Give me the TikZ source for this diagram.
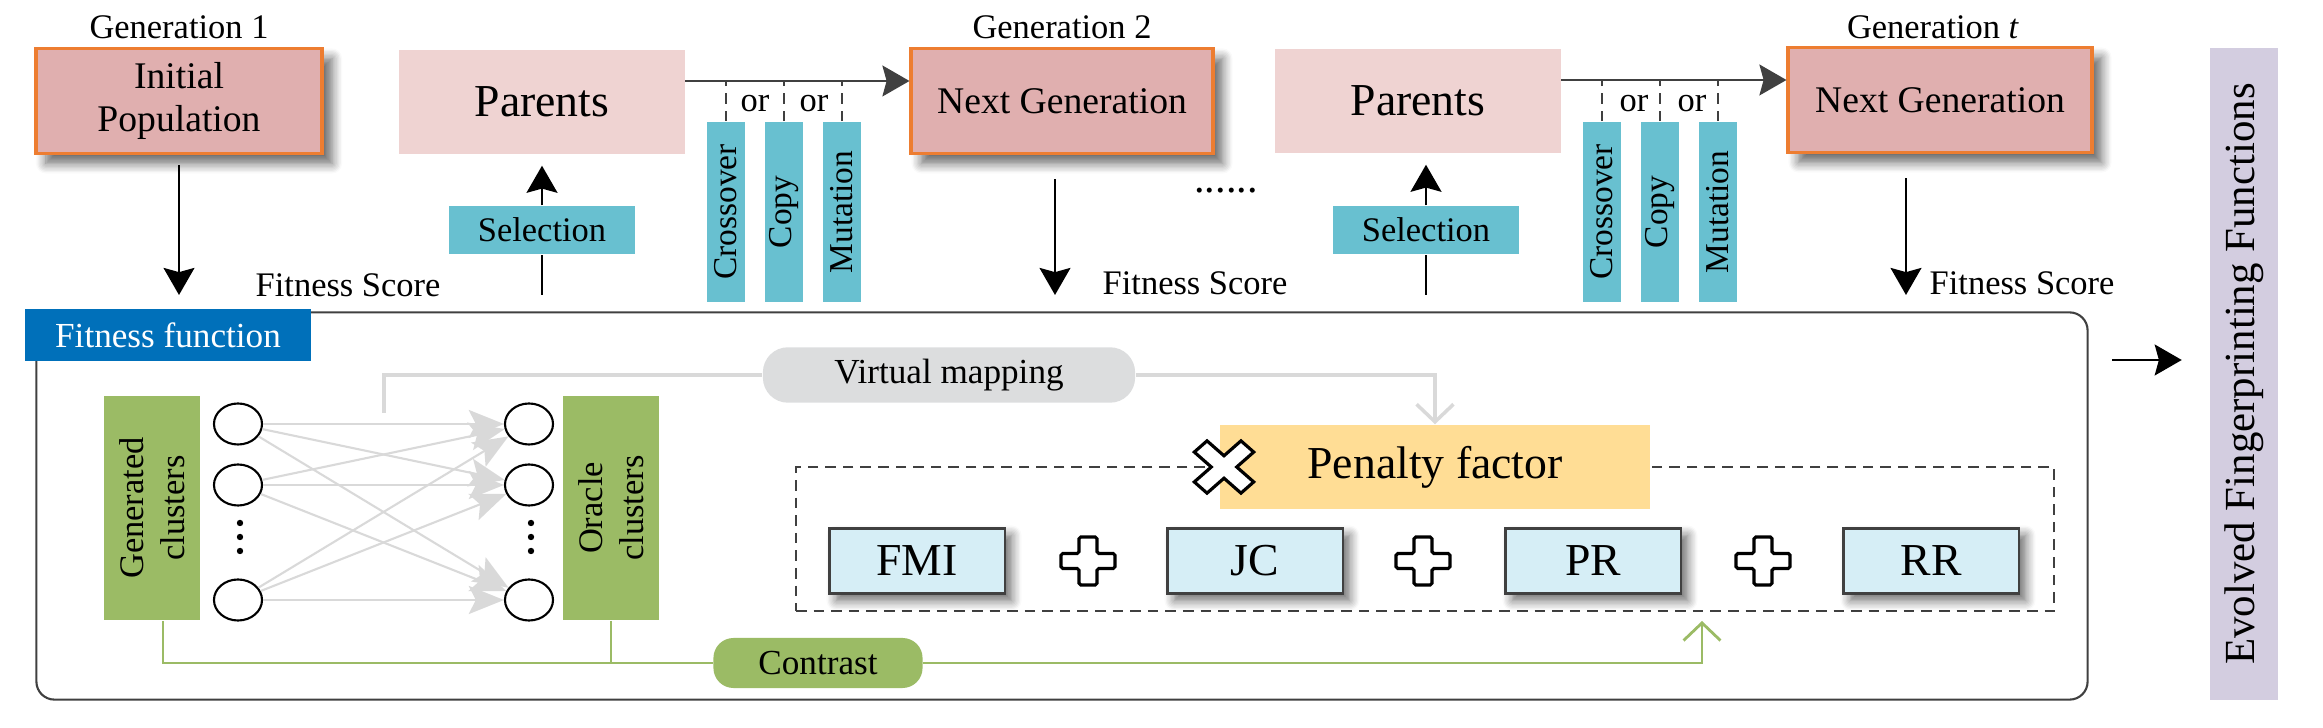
\documentclass[tikz,border=0pt]{standalone}
\usepackage{fontspec}
\setmainfont{Liberation Serif}
\usetikzlibrary{arrows.meta,shapes.geometric,shadows.blur}

\definecolor{popred}{HTML}{E0AFAF}
\definecolor{poporange}{HTML}{ED7D31}
\definecolor{parpink}{HTML}{EFD3D2}
\definecolor{opteal}{HTML}{68C0D0}
\definecolor{fitblue}{HTML}{0070BA}
\definecolor{clgreen}{HTML}{9BBB65}
\definecolor{mapgray}{HTML}{D9D9D9}
\definecolor{vmgray}{HTML}{DCDDDE}
\definecolor{penyellow}{HTML}{FFDD95}
\definecolor{metblue}{HTML}{D6EEF6}
\definecolor{evlilac}{HTML}{D3CDE0}
\definecolor{linegray}{HTML}{404040}

\begin{document}
\begin{tikzpicture}[x=0.01cm, y=-0.01cm,
    >={Stealth[length=7.7pt, width=8.8pt, inset=1.2pt]},
    box shadow/.style={blur shadow={shadow xshift=#1, shadow yshift=-#1, shadow blur radius=0.1cm, shadow blur steps=8, shadow opacity=60}},
    popbox/.style={draw=poporange, line width=1.1pt, fill=popred, minimum width=2.86cm, minimum height=1.05cm, align=center, font=\fontsize{10.7}{12}\selectfont, box shadow=0.1cm},
    parbox/.style={fill=parpink, minimum width=2.85cm, minimum height=1.04cm, font=\fontsize{13}{15}\selectfont},
    selbox/.style={fill=opteal, minimum width=1.86cm, minimum height=0.48cm, font=\fontsize{9.8}{11}\selectfont},
    opbox/.style={fill=opteal, rotate=90, minimum width=1.8cm, minimum height=0.38cm, inner sep=0pt, font=\fontsize{9.5}{10}\selectfont},
    small/.style={font=\fontsize{9.8}{11}\selectfont, inner sep=0pt},
    flow/.style={->, line width=0.6pt},
    gline/.style={linegray, line width=0.6pt},
    orline/.style={linegray, dash pattern=on 3pt off 2pt, line width=0.5pt},
    tab/.style={fill=fitblue, text=white, minimum width=2.85cm, minimum height=0.51cm, font=\fontsize{10}{11}\selectfont},
    fitframe/.style={draw=linegray, line width=0.6pt, rounded corners=0.18cm, minimum width=20.5cm, minimum height=3.87cm},
    clbox/.style={fill=clgreen, rotate=90, minimum width=2.24cm, minimum height=0.96cm, align=center, inner sep=0pt, font=\fontsize{9.8}{11.5}\selectfont},
    cl/.style={ellipse, draw, line width=0.6pt, fill=white, minimum width=0.48cm, minimum height=0.41cm, inner sep=0pt},
    maparr/.style={mapgray, line width=0.6pt, -{Stealth[length=10pt, width=8pt, inset=2pt]}},
    pill/.style={minimum height=0.5cm, font=\fontsize{10}{11}\selectfont},
    vmline/.style={mapgray, line width=1pt},
    conline/.style={clgreen, line width=0.8pt},
    barb/.style={-{Straight Barb[length=5pt, width=10.5pt]}},
    sumbox/.style={draw=linegray, dash pattern=on 3pt off 2pt, line width=0.6pt, minimum width=12.57cm, minimum height=1.44cm},
    penbox/.style={fill=penyellow, minimum width=4.3cm, minimum height=0.84cm, font=\fontsize{13}{15}\selectfont},
    metbox/.style={draw=linegray, line width=0.6pt, fill=metblue, minimum width=1.75cm, minimum height=0.65cm, font=\fontsize{13}{15}\selectfont, box shadow=0.07cm},
    evbox/.style={fill=evlilac, rotate=90, minimum width=6.52cm, minimum height=0.67cm, font=\fontsize{12.2}{14}\selectfont},
    plussign/.pic={\draw[line width=0.9pt, fill=white, rounded corners=0.5pt]
        (-27,-7.5) -- (-9,-7.5) -- (-9,-24) -- (9,-24) -- (9,-7.5) -- (27,-7.5) -- (27,7.5)
        -- (9,7.5) -- (9,24) -- (-9,24) -- (-9,7.5) -- (-27,7.5) -- cycle;},
    timessign/.pic={\draw[line width=0.9pt, fill=white, yscale=0.88, rotate=45]
        (-33,-9) -- (-9,-9) -- (-9,-33) -- (9,-33) -- (9,-9) -- (33,-9) -- (33,9)
        -- (9,9) -- (9,33) -- (-9,33) -- (-9,9) -- (-33,9) -- cycle;}
]
\useasboundingbox (0,0) rectangle (2323,728);

% generations, parents and operators
\draw
(179,101) node[popbox] (init) {Initial\\Population}
(179,39) node[small, anchor=base] (g1) {Generation 1}
(542,102) node[parbox] (par1) {Parents}
(542,230) node[selbox] (sel1) {Selection}
(726,212) node[opbox] (cro1) {Crossover}
(784,212) node[opbox] (cop1) {Copy}
(842,212) node[opbox] (mut1) {Mutation}
(1062,101) node[popbox, minimum width=3.01cm] (next2) {Next Generation}
(1062,39) node[small, anchor=base] (g2) {Generation 2}
(1418,101) node[parbox] (par2) {Parents}
(1426,230) node[selbox] (sel2) {Selection}
(1602,212) node[opbox] (cro2) {Crossover}
(1660,212) node[opbox] (cop2) {Copy}
(1718,212) node[opbox] (mut2) {Mutation}
(1940,100) node[popbox, minimum width=3.03cm] (nextt) {Next Generation}
(1933,39) node[small, anchor=base] (gt) {Generation \textit{t}};

\draw
(755,112) node[small, anchor=base] (or1) {or}
(814,112) node[small, anchor=base] (or2) {or}
(1634,112) node[small, anchor=base] (or3) {or}
(1692,112) node[small, anchor=base] (or4) {or}
(255,297) node[small, anchor=base west] (fs1) {Fitness Score}
(1102,295) node[small, anchor=base west] (fs2) {Fitness Score}
(1929,295) node[small, anchor=base west] (fst) {Fitness Score}
(1226,193) node[anchor=base, inner sep=0pt, font=\fontsize{12}{12}\selectfont] (dots) {......}
(2244,374) node[evbox] (evo) {Evolved Fingerprinting Functions};

\coordinate (d1) at (179,295);
\coordinate (d2) at (1055,295);
\coordinate (dt) at (1906,295);
\coordinate (s1) at (542,295);
\coordinate (s2) at (1426,295);
\coordinate (ev0) at (2112,360);

\draw[flow, shorten <=0.1cm] (init.south) -- (d1);
\draw[flow, shorten <=0.24cm] (next2.south -| d2) -- (d2);
\draw[flow, shorten <=0.24cm] (nextt.south -| dt) -- (dt);
\draw[line width=0.6pt] (s1) -- (sel1.south);
\draw[flow, shorten >=0.11cm] (sel1.north) -- (par1.south);
\draw[line width=0.6pt] (s2) -- (sel2.south);
\draw[flow, shorten >=0.11cm] (sel2.north) -- (sel2.north |- par2.south);
\draw[gline, ->] ([yshift=0.21cm]par1.east) coordinate (h1) -- (h1 -| next2.west);
\draw[gline, ->] ([yshift=0.21cm]par2.east) coordinate (h2) -- (h2 -| nextt.west);
\draw[orline] (cro1.east) -- (cro1.east |- h1);
\draw[orline] (cop1.east) -- (cop1.east |- h1);
\draw[orline] (mut1.east) -- (mut1.east |- h1);
\draw[orline] (cro2.east) -- (cro2.east |- h2);
\draw[orline] (cop2.east) -- (cop2.east |- h2);
\draw[orline] (mut2.east) -- (mut2.east |- h2);
\draw[flow, shorten >=0.28cm] (ev0) -- (ev0 -| evo.north);

% fitness function
\node[fitframe] (fit) at (1062,506) {};
\node[tab] (tab) at (168,335) {Fitness function};

\draw
(152,508) node[clbox] (gen) {Generated\\clusters}
(611,508) node[clbox] (orc) {Oracle\\clusters}
(238,424) node[cl] (l1) {}
(238,485) node[cl] (l2) {}
(238,600) node[cl] (l3) {}
(529,424) node[cl] (r1) {}
(529,485) node[cl] (r2) {}
(529,600) node[cl] (r3) {};

\fill (240,523) circle[radius=0.032cm] (240,537) circle[radius=0.032cm] (240,551) circle[radius=0.032cm];
\fill (531,523) circle[radius=0.032cm] (531,537) circle[radius=0.032cm] (531,551) circle[radius=0.032cm];

\draw[maparr] (l1) -- (r1);
\draw[maparr] (l1) -- (r2);
\draw[maparr] (l1) -- (r3);
\draw[maparr] (l2) -- (r1);
\draw[maparr] (l2) -- (r2);
\draw[maparr] (l2) -- (r3);
\draw[maparr] (l3) -- (r1);
\draw[maparr] (l3) -- (r2);
\draw[maparr] (l3) -- (r3);

\node[sumbox] (sum) at (1425,539) {};
\node[penbox] (pen) at (1435,467) {Penalty factor};
\pic at (1224,467) {timessign};

\draw
(917,561) node[metbox] (fmi) {FMI}
(1255,561) node[metbox] (jc) {JC}
(1593,561) node[metbox] (pr) {PR}
(1931,561) node[metbox] (rr) {RR};
\pic at (1088,561) {plussign};
\pic at (1423,561) {plussign};
\pic at (1763,561) {plussign};

\node[pill, fill=vmgray, rounded corners=0.25cm, minimum width=3.72cm] (vm) at (949,375) {Virtual mapping};
\coordinate (vm0) at (384,413);
\draw[vmline] (vm0) |- (vm.west);
\draw[vmline, barb] (vm.east) -| (pen.north);

\node[pill, fill=clgreen, rounded corners=0.2cm, minimum width=2.09cm] (con) at (818,663) {Contrast};
\coordinate (ct) at (1702,621);
\draw[conline] ([xshift=0.11cm]gen.west) |- (con.west);
\draw[conline] (orc.west) -- (orc.west |- con.west);
\draw[conline, barb] (con.east) -| (ct);

\end{tikzpicture}
\end{document}
